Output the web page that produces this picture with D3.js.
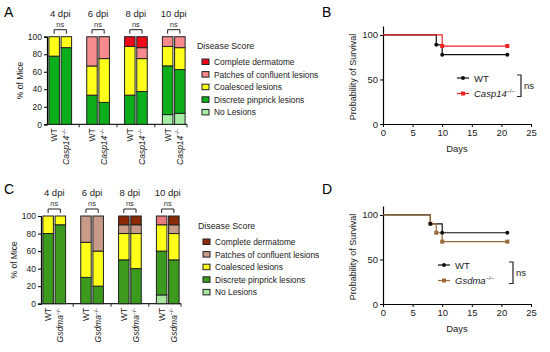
<!DOCTYPE html>
<html>
<head>
<meta charset="utf-8">
<script src="https://cdn.jsdelivr.net/npm/d3@7"></script>
<style>
  body { margin: 0; background: #fff; }
  svg { font-family: "Liberation Sans", Arial, sans-serif; }
</style>
</head>
<body>
<div class="svg"></div>
<script>
// ---- data ----
var days = ["4 dpi", "6 dpi", "8 dpi", "10 dpi"];
var scoreNames = ["Complete dermatome", "Patches of confluent lesions", "Coalesced lesions", "Discrete pinprick lesions", "No Lesions"];
var yTicksBar = [0, 20, 40, 60, 80, 100];

// panel A: % of mice per score, bars in order WT, Casp14 for each dpi
// columns: [no lesions, discrete, coalesced, patches, complete]
var casp14Scores = [
  [0, 77.8, 22.2, 0, 0],
  [0, 87.5, 12.5, 0, 0],
  [0, 33.3, 33.3, 33.3, 0],
  [0, 25, 50, 25, 0],
  [0, 33.3, 55.6, 0, 11.1],
  [0, 37.5, 37.5, 12.5, 12.5],
  [11.1, 55.6, 22.2, 11.1, 0],
  [12.5, 50, 25, 12.5, 0]
];
// panel C
var gsdmaScores = [
  [0, 80, 20, 0, 0],
  [0, 90, 10, 0, 0],
  [0, 30, 40, 30, 0],
  [0, 20, 40, 40, 0],
  [0, 50, 30, 10, 10],
  [0, 40, 40, 10, 10],
  [10, 50, 30, 0, 10],
  [0, 50, 30, 10, 10]
];

// survival curves: [day, probability]
var survCaspWT = [[0, 100], [9, 88.9], [10, 77.8], [21, 77.8]];
var survCasp14 = [[0, 100], [10, 87.5], [21, 87.5]];
var survGsdWT = [[0, 100], [8, 90], [10, 80], [21, 80]];
var survGsdma = [[0, 100], [8, 90], [9, 80], [10, 70], [21, 70]];
var dayTicks = [0, 5, 10, 15, 20, 25];
var survTicks = [0, 50, 100];

var colorsA = ["#a6eea6", "#0cae1c", "#ffff1a", "#f78a8c", "#ea0a1a"];
var colorsC = ["#a6e4a0", "#3c9a1e", "#ffff1a", "#c89a88", "#8a2a06"];

var svg = d3.select(".svg").append("svg").attr("width", 550).attr("height", 352);

function panelLetter(t, x, y) {
  svg.append("text").attr("x", x).attr("y", y).attr("font-size", 14).text(t);
}

function koLabel(sel, name, size) {
  sel.append("tspan").attr("font-style", "italic").text(name);
  sel.append("tspan").attr("font-size", size * 0.6).attr("dy", -size * 0.4).text("−/−");
}

function drawBars(cfg) {
  var g = svg.append("g");
  var y = d3.scaleLinear().domain([0, 100]).range([cfg.y0, cfg.y1]);
  var xg = d3.scaleBand().domain(days).range([cfg.ax, cfg.ax + 140]).paddingInner(0.4).paddingOuter(0.05);
  var xp = d3.scaleBand().domain([0, 1]).range([0, xg.bandwidth()]).paddingInner(0.14);

  // y axis
  var ya = g.append("g").attr("transform", "translate(" + cfg.ax + ",0)")
    .call(d3.axisLeft(y).tickValues(yTicksBar).tickSize(3).tickPadding(2));
  ya.select(".domain").attr("stroke-width", 1.2);
  ya.selectAll("text").attr("font-size", 8.5).attr("fill", "#222").attr("font-family", null);
  g.append("text").attr("transform", "translate(" + (cfg.ax - 24) + "," + ((cfg.y0 + cfg.y1) / 2) + ") rotate(-90)")
    .attr("text-anchor", "middle").attr("font-size", 8.5).attr("fill", "#222").text("% of Mice");

  // x axis line with ticks between groups
  var xEnd = cfg.ax + 140;
  g.append("line").attr("x1", cfg.ax).attr("x2", xEnd).attr("y1", cfg.y0).attr("y2", cfg.y0)
    .attr("stroke", "#222").attr("stroke-width", 1.2);
  var between = days.slice(1).map(function (d) { return xg(d) - xg.step() * xg.paddingInner() / 2; });
  between.push(xEnd);
  g.selectAll(".xt").data(between).enter().append("line")
    .attr("x1", function (d) { return d; }).attr("x2", function (d) { return d; })
    .attr("y1", cfg.y0).attr("y2", cfg.y0 + 3).attr("stroke", "#222");

  cfg.scores.forEach(function (row, i) {
    var day = days[Math.floor(i / 2)], p = i % 2;
    var bx = xg(day) + xp(p), bw = xp.bandwidth();
    var acc = 0;
    row.forEach(function (v, k) {
      if (v <= 0) return;
      var col = cfg.colors[k];
      if (cfg.override && cfg.override.bar === i && cfg.override.cat === k) col = cfg.override.color;
      g.append("rect").attr("x", bx).attr("width", bw)
        .attr("y", y(acc + v)).attr("height", y(acc) - y(acc + v))
        .attr("fill", col).attr("stroke", "#222").attr("stroke-width", 1);
      acc += v;
    });
    // x label
    var lab = g.append("text")
      .attr("transform", "translate(" + (bx + bw / 2 + 3) + "," + (cfg.y0 + 4) + ") rotate(-90)")
      .attr("text-anchor", "end").attr("font-size", 8.5).attr("fill", "#222");
    if (p === 0) lab.text("WT"); else koLabel(lab, cfg.ko, 8.5);
  });

  // brackets, ns and dpi
  days.forEach(function (d) {
    var c1 = xg(d) + xp(0) + xp.bandwidth() / 2, c2 = xg(d) + xp(1) + xp.bandwidth() / 2;
    var by = cfg.y1 - 7;
    g.append("path").attr("d", "M" + c1 + "," + (by + 4) + "V" + by + "H" + c2 + "V" + (by + 4))
      .attr("fill", "none").attr("stroke", "#222").attr("stroke-width", 1);
    g.append("text").attr("x", (c1 + c2) / 2).attr("y", by - 3).attr("text-anchor", "middle")
      .attr("font-size", 7.5).attr("fill", "#333").text("ns");
    g.append("text").attr("x", (c1 + c2) / 2).attr("y", by - 13).attr("text-anchor", "middle")
      .attr("font-size", 9.5).attr("fill", "#222").text(d);
  });

  // legend
  g.append("text").attr("x", cfg.lx - 5).attr("y", cfg.ly - 13).attr("font-size", 8.8).attr("fill", "#222").text("Disease Score");
  scoreNames.forEach(function (n, j) {
    var ry = cfg.ly + j * 12.6;
    g.append("rect").attr("x", cfg.lx).attr("y", ry - 3).attr("width", 7).attr("height", 5.5)
      .attr("fill", cfg.colors[4 - j]).attr("stroke", "#222").attr("stroke-width", 1);
    g.append("text").attr("x", cfg.lx + 12).attr("y", ry + 3).attr("font-size", 8.4).attr("fill", "#222").text(n);
  });
}

function drawSurv(cfg) {
  var g = svg.append("g");
  var x = d3.scaleLinear().domain([0, 25]).range([383, 531]);
  var y = d3.scaleLinear().domain([0, 110]).range([cfg.y0, cfg.y0 - 98]);

  var xa = g.append("g").attr("transform", "translate(0," + cfg.y0 + ")")
    .call(d3.axisBottom(x).tickValues(dayTicks).tickSize(3).tickPadding(2).tickSizeOuter(0));
  var ya = g.append("g").attr("transform", "translate(383,0)")
    .call(d3.axisLeft(y).tickValues(survTicks).tickSize(3).tickPadding(2).tickSizeOuter(0));
  [xa, ya].forEach(function (a) {
    a.select(".domain").attr("stroke-width", 1.2);
    a.selectAll("text").attr("font-size", 9.5).attr("fill", "#222").attr("font-family", null);
  });
  g.append("text").attr("x", 457).attr("y", cfg.y0 + 28).attr("text-anchor", "middle")
    .attr("font-size", 9.5).attr("fill", "#222").text("Days");
  g.append("text").attr("transform", "translate(356," + (cfg.y0 - 47) + ") rotate(-90)")
    .attr("text-anchor", "middle").attr("font-size", 9).attr("fill", "#222").text("Probability of Survival");

  var line = d3.line().curve(d3.curveStepAfter).x(function (d) { return x(d[0]); }).y(function (d) { return y(d[1]); });
  cfg.series.forEach(function (s) {
    g.append("path").attr("d", line(s.data)).attr("fill", "none").attr("stroke", s.color).attr("stroke-width", 1.2);
  });
  cfg.series.slice().reverse().forEach(function (s) {
    s.data.slice(1).forEach(function (d) {
      if (s.shape === "circle") {
        g.append("circle").attr("cx", x(d[0])).attr("cy", y(d[1])).attr("r", 2).attr("fill", s.color);
      } else {
        g.append("rect").attr("x", x(d[0]) - 2).attr("y", y(d[1]) - 2).attr("width", 4).attr("height", 4).attr("fill", s.color);
      }
    });
  });

  // legend
  cfg.series.forEach(function (s, j) {
    var ly = cfg.ly + j * 15.5;
    g.append("line").attr("x1", cfg.lx).attr("x2", cfg.lx + 12).attr("y1", ly).attr("y2", ly)
      .attr("stroke", s.color).attr("stroke-width", 1.2);
    if (s.shape === "circle") g.append("circle").attr("cx", cfg.lx + 6).attr("cy", ly).attr("r", 2).attr("fill", s.color);
    else g.append("rect").attr("x", cfg.lx + 4).attr("y", ly - 2).attr("width", 4).attr("height", 4).attr("fill", s.color);
    var t = g.append("text").attr("x", cfg.lx + 17).attr("y", ly + 3.5).attr("font-size", 9.5).attr("fill", "#222");
    if (j === 0) t.text("WT"); else koLabel(t, s.name, 9.5);
  });
  var bx = cfg.bx, b1 = cfg.ly - 3, b2 = cfg.ly + 18.5;
  g.append("path").attr("d", "M" + (bx - 4) + "," + b1 + "H" + bx + "V" + b2 + "H" + (bx - 4))
    .attr("fill", "none").attr("stroke", "#222").attr("stroke-width", 1.2);
  g.append("text").attr("x", bx + 3).attr("y", (b1 + b2) / 2 + 3).attr("font-size", 9.5).attr("fill", "#222").text("ns");
}

panelLetter("A", 4, 17);
panelLetter("B", 322, 17);
panelLetter("C", 4, 194);
panelLetter("D", 322, 194);

drawBars({ ax: 47, y0: 124.3, y1: 36.7, scores: casp14Scores, colors: colorsA, ko: "Casp14", lx: 202, ly: 62 });
drawBars({ ax: 41, y0: 303.7, y1: 216, scores: gsdmaScores, colors: colorsC, ko: "Gsdma", lx: 203, ly: 242,
  override: { bar: 6, cat: 4, color: "#e87a7c" } });

drawSurv({ y0: 124, lx: 457, ly: 78, bx: 521,
  series: [{ name: "WT", data: survCaspWT, color: "#111", shape: "circle" },
           { name: "Casp14", data: survCasp14, color: "#ee2222", shape: "square" }] });
drawSurv({ y0: 304, lx: 438, ly: 265, bx: 513,
  series: [{ name: "WT", data: survGsdWT, color: "#111", shape: "circle" },
           { name: "Gsdma", data: survGsdma, color: "#9a6a3a", shape: "square" }] });
</script>
</body>
</html>
